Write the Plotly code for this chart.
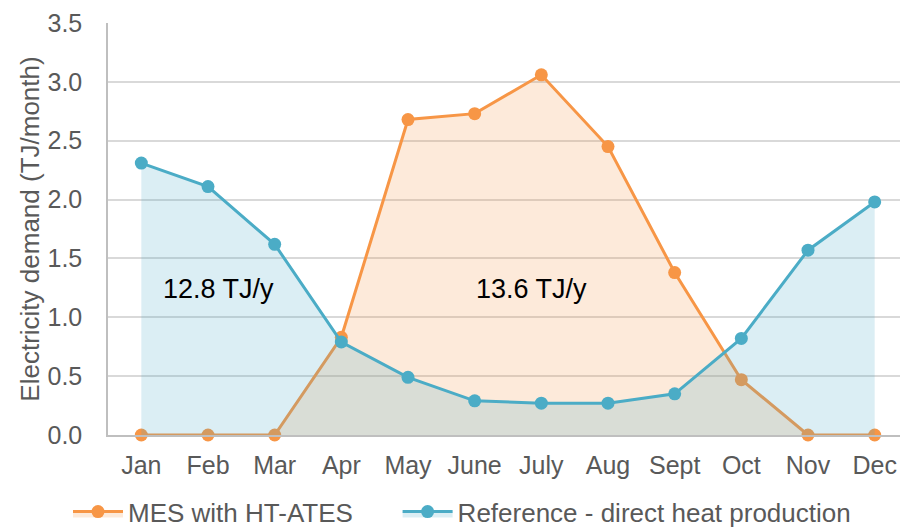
import plotly.graph_objects as go

months = ["Jan", "Feb", "Mar", "Apr", "May", "June", "July", "Aug", "Sept", "Oct", "Nov", "Dec"]
mes_htates = [0.0, 0.0, 0.0, 0.83, 2.68, 2.73, 3.06, 2.45, 1.38, 0.47, 0.0, 0.0]
reference = [2.31, 2.11, 1.62, 0.79, 0.49, 0.29, 0.27, 0.27, 0.35, 0.82, 1.57, 1.98]

annual_labels = ["12.8 TJ/y", "13.6 TJ/y"]
annual_x = [1.15, 5.85]
annual_y = [1.24, 1.24]

ORANGE = "#F79646"
BLUE = "#4BACC6"
GREY_TXT = "#595959"
FONT = "Liberation Sans, Arial, sans-serif"

fig = go.Figure()

fig.add_trace(go.Scatter(
    x=months, y=mes_htates, name="MES with HT-ATES",
    mode="lines+markers", fill="tozeroy", cliponaxis=False,
    fillcolor="rgba(247,150,70,0.2)",
    line=dict(color=ORANGE, width=3),
    marker=dict(color=ORANGE, size=13),
    legend="legend",
))
fig.add_trace(go.Scatter(
    x=months, y=reference, name="Reference - direct heat production",
    mode="lines+markers", fill="tozeroy", cliponaxis=False,
    fillcolor="rgba(75,172,198,0.2)",
    line=dict(color=BLUE, width=3),
    marker=dict(color=BLUE, size=13),
    legend="legend2",
))

for txt, ax, ay in zip(annual_labels, annual_x, annual_y):
    fig.add_annotation(x=ax, y=ay, text=txt, showarrow=False,
                       font=dict(size=27, color="#000000", family=FONT))

# page body keeps its default 8px margin, so the figure is offset by 8px
legend_style = dict(orientation="h", y=-0.186, yanchor="middle", xanchor="left",
                    font=dict(size=26, color=GREY_TXT), itemwidth=50)
fig.update_layout(
    width=900, height=523,
    paper_bgcolor="white", plot_bgcolor="white",
    margin=dict(l=100, r=0, t=15, b=96, autoexpand=False),
    font=dict(family=FONT, size=25, color=GREY_TXT),
    showlegend=True,
    legend=dict(x=-0.05, **legend_style),
    legend2=dict(x=0.362, **legend_style),
)
fig.update_xaxes(
    range=[-0.5, 11.5], showgrid=False, automargin=False,
    showline=True, linecolor="#BFBFBF", linewidth=1.5,
    ticks="outside", ticklen=7, tickcolor="rgba(0,0,0,0)",
    tickfont=dict(size=25, color=GREY_TXT),
)
fig.update_yaxes(
    range=[0, 3.5], dtick=0.5, tickformat=".1f", automargin=False,
    showgrid=True, gridcolor="#D9D9D9", gridwidth=1.5,
    showline=True, linecolor="#BFBFBF", linewidth=1.5,
    zeroline=False,
    ticks="outside", ticklen=19, tickcolor="rgba(0,0,0,0)",
    tickfont=dict(size=25, color=GREY_TXT),
    title=dict(text="Electricity demand (TJ/month)", font=dict(size=26, color=GREY_TXT), standoff=0),
)

fig.write_html("out.html")
